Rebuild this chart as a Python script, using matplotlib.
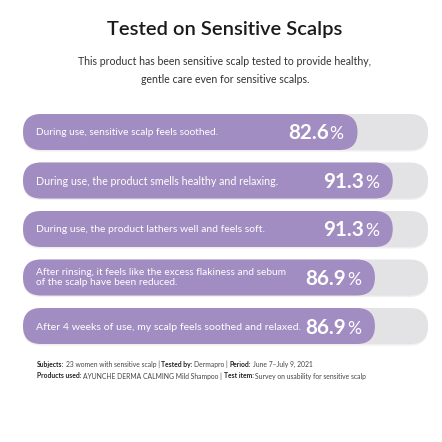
import matplotlib
matplotlib.use("Agg")
import matplotlib.pyplot as plt
from matplotlib.patches import FancyBboxPatch

# ---------------- data ----------------
title = "Tested on Sensitive Scalps"
subtitle_lines = [
    "This product has been sensitive scalp tested to provide healthy,",
    "gentle care even for sensitive scalps.",
]
statements = [
    "During use, sensitive scalp feels soothed.",
    "During use, the product smells healthy and relaxing.",
    "During use, the product lathers well and feels soft.",
    "After rinsing, it feels like the excess flakiness and sebum\nof the scalp have been reduced.",
    "After 4 weeks of use, my scalp feels soothed and relaxed.",
]
values = [82.6, 91.3, 91.3, 86.9, 86.9]
footnote_line1 = [
    ("Subjects:", True), ("23 women with sensitive scalp |", False),
    ("Tested by:", True), ("Dermapro |", False),
    ("Period:", True), ("June 7–July 9, 2021", False),
]
footnote_line2 = [
    ("Products used:", True), ("AYUNCHE DERMA CALMING Mild Shampoo |", False),
    ("Test item:", True), ("Survey on usability for sensitive scalp", False),
]

# ---------------- style ----------------
W = H = 442
PURPLE = "#a18dc1"
TRACK = "#e3e3e5"
plt.rcParams["font.family"] = "Lato"

# target rendered widths (pixels) measured on the reference
label_widths = [181, 241, 232, 247, 261]
title_width = 234
subtitle_width = 292
number_width = 41
pct_width = 14
foot_widths = [276, 323]

fig = plt.figure(figsize=(W / 100, H / 100), dpi=100)
fig.patch.set_facecolor("white")

x0_px, track_w_px = 23, 405
row_gap_px = 48.5
first_center_px = 132
top_px = first_center_px - row_gap_px / 2
n = len(values)
ax_h_px = row_gap_px * n
ax = fig.add_axes([x0_px / W, 1 - (top_px + ax_h_px) / H, track_w_px / W, ax_h_px / H])
ax.set_xlim(0, 100)
ax.set_ylim(n - 0.5, -0.5)
ax.axis("off")

px_per_x = track_w_px / 100
px_per_y = row_gap_px
bar_h_px = 36
bar_h = bar_h_px / px_per_y
aspect = px_per_x / px_per_y
radius_x = (bar_h_px / 2) / px_per_x


def pill(x, y, w, color, z, dy=0.0):
    p = FancyBboxPatch((x, y - bar_h / 2 + dy), w, bar_h,
                       boxstyle=f"round,pad=0,rounding_size={radius_x}",
                       mutation_aspect=aspect, facecolor=color,
                       edgecolor="none", zorder=z)
    ax.add_patch(p)
    return p


fits = []  # (text_artist, target_width)
labels = []
pct_texts = []
for i, (label, v) in enumerate(zip(statements, values)):
    pill(0, i, 100, "#efeff0", 1, dy=1.5 / px_per_y)
    pill(0, i, 100, TRACK, 2)
    pill(0, i, v, PURPLE, 3)
    va = "center" if "\n" in label else "center_baseline"
    t = ax.annotate(label, xy=(0, i), xytext=(13, 0), textcoords="offset pixels",
                    ha="left", va=va, color="white", fontsize=7.3, zorder=5,
                    linespacing=1.1)
    fits.append((t, label_widths[i]))
    pt = ax.annotate("%", xy=(v, i), xytext=(-14, -7.5), textcoords="offset pixels",
                     ha="right", va="baseline", color="white", fontsize=11.5, zorder=5)
    pct_texts.append(pt)
fits.append((pct_texts[0], pct_width))

tt = fig.text(225 / W, 1 - 34.5 / H, title, ha="center", va="baseline",
              fontsize=15.5, fontweight="semibold", color="#1a1a1a")
fits.append((tt, title_width))
subs = []
for k, line in enumerate(subtitle_lines):
    s = fig.text(225 / W, 1 - (65 + 18 * k) / H, line, ha="center", va="baseline",
                 fontsize=7.5, color="#333333")
    subs.append(s)


def chain(segments, x_px, y_px):
    arts = []
    prev = None
    for txt, bold in segments:
        kw = dict(fontsize=5.0, color="#222222" if bold else "#444444",
                  fontweight="bold" if bold else "normal")
        if prev is None:
            prev = fig.text(x_px / W, 1 - y_px / H, txt, ha="left", va="baseline", **kw)
        else:
            prev = ax.annotate(txt, xy=(1, 0), xycoords=prev, xytext=(1.6, 0),
                               textcoords="offset pixels", ha="left", va="bottom",
                               annotation_clip=False, **kw)
        arts.append(prev)
    return arts


foot = [chain(footnote_line1, 37, 367), chain(footnote_line2, 37, 378.5)]

# fit font sizes to measured widths
for _ in range(3):
    fig.canvas.draw()
    r = fig.canvas.get_renderer()
    for t, target in fits:
        w = t.get_window_extent(r).width
        t.set_fontsize(t.get_fontsize() * target / w)
    w = subs[0].get_window_extent(r).width
    fs = subs[0].get_fontsize() * subtitle_width / w
    for s in subs:
        s.set_fontsize(fs)
    ratios = []
    for arts, target in zip(foot, foot_widths):
        tot = arts[-1].get_window_extent(r).x1 - arts[0].get_window_extent(r).x0
        ratios.append(target / tot)
    ratio = sum(ratios) / len(ratios)
    for arts in foot:
        for a in arts:
            a.set_fontsize(a.get_fontsize() * ratio)

pct_fs = pct_texts[0].get_fontsize()
for pt in pct_texts:
    pt.set_fontsize(pct_fs)

fig.canvas.draw()
r = fig.canvas.get_renderer()
nums = []
for i, (v, pt) in enumerate(zip(values, pct_texts)):
    wpct = pt.get_window_extent(r).width
    nt = ax.annotate(f"{v:.1f}", xy=(v, i), xytext=(-14 - wpct - 0.5, -7.5),
                     textcoords="offset pixels", ha="right", va="baseline",
                     color="white", fontsize=15, fontweight="bold", zorder=5)
    nums.append(nt)
fig.canvas.draw()
r = fig.canvas.get_renderer()
w0 = nums[0].get_window_extent(r).width
num_fs = 15 * number_width / w0
for nt in nums:
    nt.set_fontsize(num_fs)

fig.savefig("out.png", dpi=100, facecolor="white")
